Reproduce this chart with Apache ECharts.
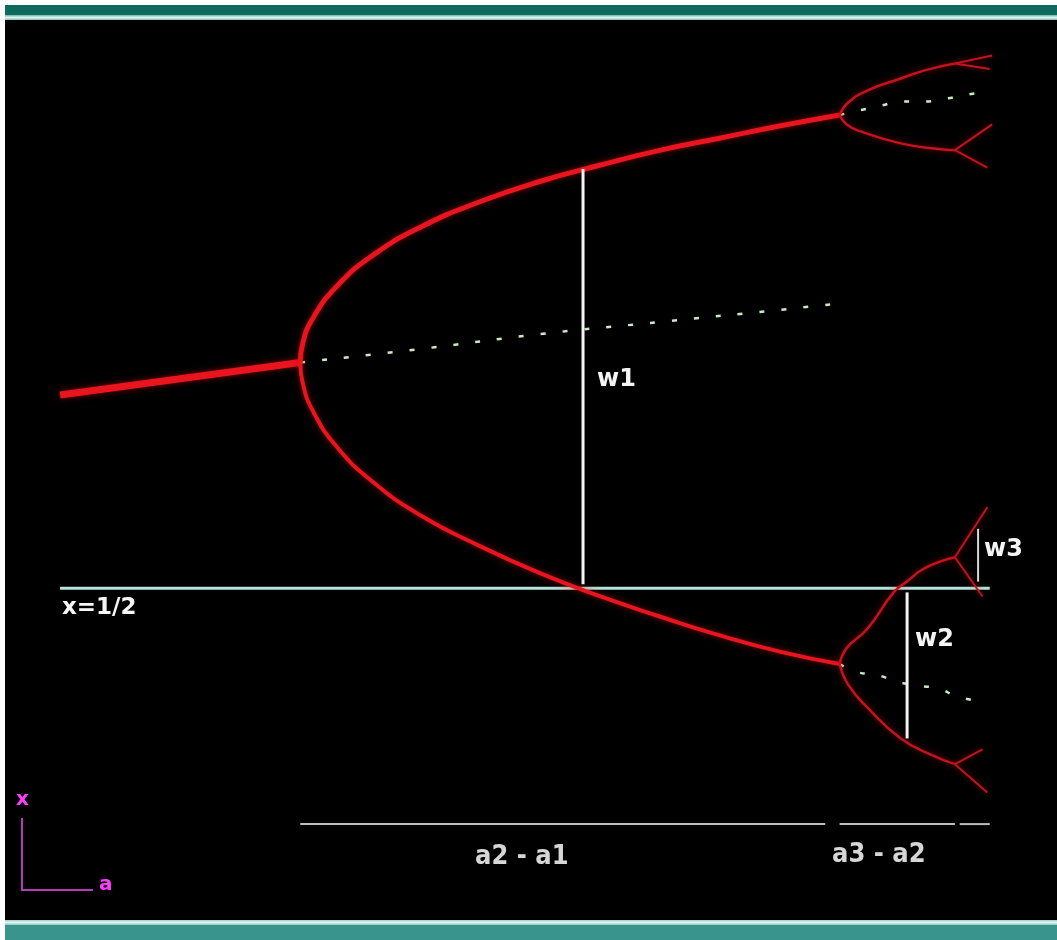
<!DOCTYPE html>
<html>
<head>
<meta charset="utf-8">
<style>
  html, body { margin: 0; padding: 0; background: #fff; }
  #chart { width: 1057px; height: 940px; }
</style>
<script src="https://cdn.jsdelivr.net/npm/echarts@6/dist/echarts.min.js"></script>
</head>
<body>
<div id="chart"></div>
<script>
// Logistic map x -> a x (1 - x): period-doubling cascade, parameter a on the horizontal axis.

// Stable fixed point before the first doubling (a1 = 3)
const fixedStable = [[2.80, 0.643], [2.90, 0.655], [3.00, 0.667]];
// Fixed point after it has lost stability
const fixedUnstable = [[3.00, 0.667], [3.10, 0.677], [3.20, 0.688], [3.30, 0.697], [3.40, 0.706], [3.442, 0.710]];

// Period-2 orbit, upper and lower branch (a1 .. a2)
const period2Upper = [[3.000, 0.667], [3.002, 0.681], [3.010, 0.699], [3.030, 0.723], [3.060, 0.746], [3.100, 0.767],
  [3.150, 0.786], [3.200, 0.801], [3.250, 0.813], [3.300, 0.824], [3.350, 0.833], [3.400, 0.842], [3.449, 0.850]];
const period2Lower = [[3.000, 0.667], [3.002, 0.652], [3.010, 0.632], [3.030, 0.605], [3.060, 0.579], [3.100, 0.554],
  [3.150, 0.531], [3.200, 0.511], [3.250, 0.494], [3.300, 0.479], [3.350, 0.465], [3.400, 0.453], [3.449, 0.444]];

// Unstable period-2 orbit beyond a2
const period2UnstableUpper = [[3.449, 0.850], [3.484, 0.857], [3.501, 0.860], [3.519, 0.860], [3.537, 0.862], [3.555, 0.865], [3.573, 0.867]];
const period2UnstableLower = [[3.449, 0.444], [3.464, 0.438], [3.480, 0.436], [3.497, 0.431], [3.514, 0.428], [3.531, 0.426], [3.547, 0.420], [3.563, 0.417]];

// Period-4 orbit (a2 .. a3)
const period4 = [
  [[3.449, 0.850], [3.456, 0.859], [3.472, 0.868], [3.500, 0.877], [3.520, 0.883], [3.545, 0.888]],
  [[3.449, 0.850], [3.455, 0.843], [3.466, 0.838], [3.500, 0.829], [3.530, 0.825], [3.545, 0.824]],
  [[3.449, 0.444], [3.455, 0.456], [3.472, 0.470], [3.494, 0.497], [3.505, 0.505], [3.520, 0.515], [3.545, 0.523]],
  [[3.449, 0.444], [3.456, 0.429], [3.472, 0.412], [3.500, 0.389], [3.525, 0.377], [3.545, 0.370]]
];
// Period-8 twigs beyond a3
const period8 = [
  [[3.545, 0.888], [3.576, 0.894]], [[3.545, 0.888], [3.574, 0.884]],
  [[3.545, 0.824], [3.576, 0.843]], [[3.545, 0.824], [3.572, 0.811]],
  [[3.545, 0.523], [3.572, 0.560]], [[3.545, 0.523], [3.568, 0.494]],
  [[3.545, 0.370], [3.568, 0.381]], [[3.545, 0.370], [3.572, 0.349]]
];

// Reference line x = 1/2
const halfLine = [[2.80, 0.5], [3.574, 0.5]];
// Widths of the branches, measured at the superstable parameters
const widthBars = {
  w1: [[3.2354, 0.810], [3.2354, 0.503]],
  w2: [[3.5052, 0.497], [3.5052, 0.389]],
  w3: [[3.5643, 0.544], [3.5643, 0.505]]
};
// Parameter intervals between successive doublings
const intervalLevel = 0.3257;
const intervals = [[3.000, 3.437], [3.449, 3.545], [3.549, 3.574]];

// Text labels and their anchors
const labelNames = ['w1', 'w2', 'w3', 'x=1/2', 'a2 - a1', 'a3 - a2'];
const labelAnchors = [[3.247, 0.654], [3.5118, 0.4618], [3.5692, 0.5283], [2.8016, 0.4855], [3.1455, 0.3014], [3.4427, 0.3028]];

const RED = '#e8141e';
const DARK_RED = '#c4121e';
const GLOW = 'rgba(220,0,0,0.55)';

function lineSeries(data, color, width, extra) {
  return Object.assign({
    type: 'line', data: data, symbol: 'none', smooth: true, silent: true,
    lineStyle: { color: color, width: width, shadowBlur: 6, shadowColor: GLOW },
    z: 3
  }, extra || {});
}

const series = [];
series.push(lineSeries(fixedStable, RED, 7, { smooth: false }));
series.push(lineSeries(period2Upper, RED, 5));
series.push(lineSeries(period2Lower, RED, 4));
period4.forEach(b => series.push(lineSeries(b, DARK_RED, 2.5)));
period8.forEach(b => series.push(lineSeries(b, DARK_RED, 2, { smooth: false })));

const dotStyle = { color: '#c8ecc0', width: 2.5, type: [5, 17], shadowBlur: 0 };
[fixedUnstable, period2UnstableUpper, period2UnstableLower].forEach(d =>
  series.push({ type: 'line', data: d, symbol: 'none', smooth: true, silent: true, lineStyle: dotStyle, z: 2 }));

series.push({ type: 'line', data: halfLine, symbol: 'none', silent: true,
  lineStyle: { color: '#b4e4dc', width: 3 }, z: 2 });

Object.keys(widthBars).forEach(k => series.push({ type: 'line', data: widthBars[k], symbol: 'none', silent: true,
  lineStyle: { color: k === 'w3' ? '#d8d8d8' : '#f4f4f4', width: k === 'w3' ? 2 : 3 }, z: 4 }));

intervals.forEach(seg => series.push({ type: 'line', data: [[seg[0], intervalLevel], [seg[1], intervalLevel]],
  symbol: 'none', silent: true, lineStyle: { color: '#bdbdbd', width: 2 }, z: 2 }));

const wFont = { fontFamily: 'DejaVu Sans', fontWeight: 'bold', fontSize: 24, color: '#f4f4f4' };
const intervalFont = { fontFamily: 'DejaVu Sans Condensed', fontWeight: 'bold', fontSize: 27, color: '#d6d6d6' };
const labelFonts = {
  'w1': wFont, 'w2': wFont, 'w3': wFont,
  'x=1/2': { fontFamily: 'DejaVu Sans', fontWeight: 'bold', fontSize: 23, color: '#f6f6f6' },
  'a2 - a1': intervalFont, 'a3 - a2': intervalFont
};
labelNames.forEach((name, i) => series.push({
  type: 'scatter', silent: true, symbolSize: 0, z: 5,
  itemStyle: { opacity: 1 },
  data: [{ name: name, value: labelAnchors[i] }],
  label: Object.assign({ show: true, position: 'right', distance: 0, formatter: '{b}', opacity: 1 }, labelFonts[name])
}));

const chart = echarts.init(document.getElementById('chart'), null, { renderer: 'canvas' });
chart.setOption({
  backgroundColor: '#000',
  animation: false,
  grid: { left: 0, right: 0, top: 0, bottom: 0 },
  xAxis: { type: 'value', min: 2.75, max: 3.63, show: false },
  yAxis: { type: 'value', min: 0.24, max: 0.935, show: false },
  graphic: [
    // frame: white margin, teal bars top and bottom
    { type: 'rect', shape: { x: 0, y: 0, width: 1057, height: 5 }, style: { fill: '#fff' }, z: 10 },
    { type: 'rect', shape: { x: 0, y: 0, width: 5, height: 940 }, style: { fill: '#fff' }, z: 10 },
    { type: 'rect', shape: { x: 5, y: 5, width: 1052, height: 10 }, style: { fill: '#0f6a5e' }, z: 10 },
    { type: 'rect', shape: { x: 5, y: 15, width: 1052, height: 5 }, style: {
        fill: new echarts.graphic.LinearGradient(0, 0, 0, 1, [
          { offset: 0, color: '#6fb3a9' }, { offset: 0.5, color: '#e0f4ef' }, { offset: 1, color: '#86bfb7' }]) }, z: 10 },
    { type: 'rect', shape: { x: 5, y: 920, width: 1052, height: 5 }, style: {
        fill: new echarts.graphic.LinearGradient(0, 0, 0, 1, [
          { offset: 0, color: '#9ccfc7' }, { offset: 0.5, color: '#e2f4f0' }, { offset: 1, color: '#8cc6be' }]) }, z: 10 },
    { type: 'rect', shape: { x: 5, y: 925, width: 1052, height: 15 }, style: { fill: '#3a948e' }, z: 10 },
    // axis key in the lower-left corner
    { type: 'polyline', shape: { points: [[22, 818], [22, 890], [93, 890]] },
      style: { stroke: '#b43cb4', lineWidth: 2, fill: null }, z: 10 },
    { type: 'text', x: 16, y: 790, style: { text: 'x', fill: '#ff3cff', font: 'bold 20px "DejaVu Sans"' }, z: 10 },
    { type: 'text', x: 99, y: 875, style: { text: 'a', fill: '#ff3cff', font: 'bold 20px "DejaVu Sans"' }, z: 10 }
  ],
  series: series
});
</script>
</body>
</html>
